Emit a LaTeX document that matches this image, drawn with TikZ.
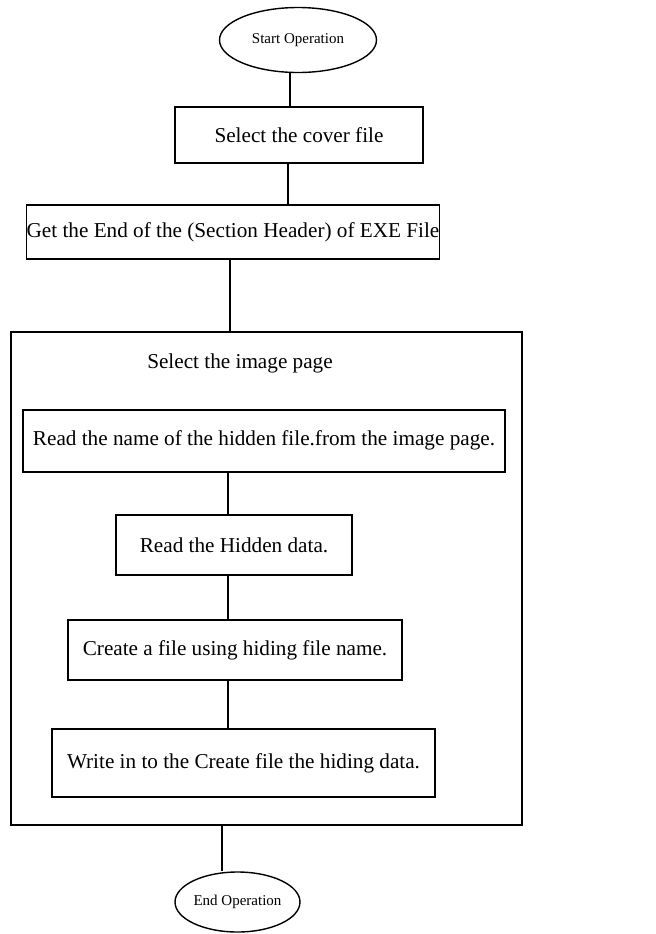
\documentclass[tikz,border=0pt]{standalone}
\usepackage{fontspec}
\setmainfont{Liberation Serif}
\usepackage{tikz}
\usetikzlibrary{shapes.geometric}

\begin{document}
\begin{tikzpicture}[x=0.5pt,y=-0.5pt,line width=0.7pt,
  stepbox/.style={draw,rectangle,inner sep=0pt,font=\fontsize{10.6}{12}\selectfont},
  terminal/.style={draw,ellipse,inner sep=0pt,font=\fontsize{7.5}{8}\selectfont}]
\useasboundingbox (0,0) rectangle (655,934);
\node (start) at (298,40) [terminal,minimum width=78.5pt,minimum height=32.5pt] {Start Operation};
\node (cover) at (299,135) [stepbox,minimum width=124pt,minimum height=28pt] {Select the cover file};
\node (exeend) at (233,232) [stepbox,minimum width=205pt,minimum height=27pt] {Get the End of the (Section Header) of EXE File};
\node (imgpage) at (266.5,578.5) [stepbox,minimum width=255.5pt,minimum height=246.5pt] {};
\node (imgtitle) at (240,363) [font=\fontsize{10.6}{12}\selectfont] {Select the image page};
\node (readname) at (264,441) [stepbox,minimum width=241pt,minimum height=31pt] {\raisebox{3pt}{Read the name of the hidden file.from the image page.}};
\node (readdata) at (234,545) [stepbox,minimum width=118pt,minimum height=30pt] {Read the Hidden data.};
\node (create) at (235,650) [stepbox,minimum width=167pt,minimum height=30pt] {Create a file using hiding file name.};
\node (write) at (243.5,763) [stepbox,minimum width=191.5pt,minimum height=34pt] {Write in to the Create file the hiding data.};
\node (finish) at (237.5,902) [terminal,minimum width=62.5pt,minimum height=30pt] {End Operation};
\draw ([xshift=-4pt]start.south) -- ([xshift=-4pt]start.south |- cover.north);
\draw ([xshift=-5.5pt]cover.south) -- ([xshift=-5.5pt]cover.south |- exeend.north);
\draw ([xshift=-1.5pt]exeend.south) -- ([xshift=-1.5pt]exeend.south |- imgpage.north);
\draw ([xshift=-18pt]readname.south) -- ([xshift=-18pt]readname.south |- readdata.north);
\draw ([xshift=-3pt]readdata.south) -- ([xshift=-3pt]readdata.south |- create.north);
\draw ([xshift=-3.5pt]create.south) -- ([xshift=-3.5pt]create.south |- write.north);
\draw ([xshift=-22.25pt]imgpage.south) -- ([xshift=-22.25pt]imgpage.south |- finish.north);
\end{tikzpicture}
\end{document}
